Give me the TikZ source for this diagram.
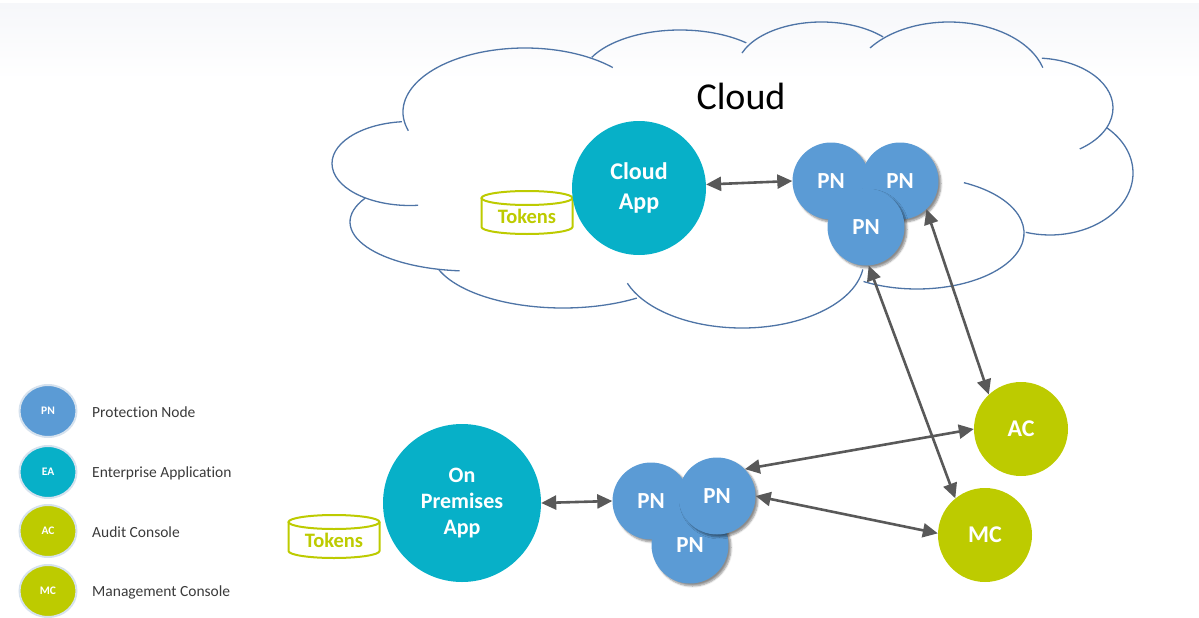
\documentclass[tikz,border=0pt]{standalone}
\usepackage{fontspec}
\setmainfont{Carlito}[Ligatures=NoCommon]
\usetikzlibrary{arrows.meta,shapes.geometric,shadows.blur,calc}
\definecolor{pnblue}{HTML}{5B9BD5}
\definecolor{eateal}{HTML}{07B0C8}
\definecolor{cgreen}{HTML}{BDCB00}
\definecolor{arrowgray}{HTML}{595959}
\definecolor{cloudblue}{HTML}{4E74A6}
\definecolor{legrim}{HTML}{D6E2EE}
\definecolor{legtext}{HTML}{3A3A3A}
\definecolor{topband}{HTML}{F6F7FA}
\newcommand\cloudbump[6]{\draw[cloudline] ([shift={(#1,#2)}]#5:#3 and #4) arc[start angle=#5,end angle=#6,x radius=#3,y radius=#4];}
\newcommand\tokencyl[3]{%
  \draw[tokline] (#2-45.5,#3-18) -- (#2-45.5,#3+11) arc[start angle=180,end angle=0,x radius=45.5,y radius=7] -- (#2+45.5,#3-18);
  \draw[tokline] (#2,#3-18) ellipse [x radius=45.5, y radius=7];
  \node[tokt] (#1) at (#2,#3) {Tokens};}
\begin{document}
\begin{tikzpicture}[x=1pt,y=-1pt,
  cloudline/.style={draw=cloudblue,line width=1.3pt},
  tokline/.style={draw=cgreen,line width=2pt,fill=white},
  tokt/.style={text=cgreen,font=\bfseries\fontsize{20.5}{24}\selectfont,inner sep=0pt},
  pn/.style={circle,fill=pnblue,minimum size=77pt,inner sep=0pt,text=white,
    font=\bfseries\fontsize{23}{27}\selectfont,
    blur shadow={shadow xshift=2.5pt,shadow yshift=-2.5pt,shadow blur steps=6,shadow opacity=45}},
  ea/.style={circle,fill=eateal,inner sep=0pt,text=white,align=center},
  con/.style={circle,fill=cgreen,minimum size=94pt,inner sep=0pt,text=white,
    font=\bfseries\fontsize{24}{28}\selectfont},
  link/.style={draw=arrowgray,line width=2.6pt,{Triangle[length=15pt,width=14pt]}-{Triangle[length=15pt,width=14pt]}},
  legc/.style={ellipse,minimum width=57pt,minimum height=52pt,inner sep=0pt,draw=legrim,line width=2pt,
    text=white,font=\bfseries\fontsize{11.5}{13}\selectfont},
  legt/.style={anchor=west,inner sep=0pt,text=legtext,font=\fontsize{15.5}{18}\selectfont}]
\useasboundingbox (0,0) rectangle (1199,618);
\shade[top color=topband,bottom color=white,draw=none] (0,4) rectangle (1199,80);

% cloud outline
\cloudbump{410}{163.5}{78}{42}{264}{84}
\cloudbump{525}{112}{122}{64}{163}{316}
\cloudbump{680}{80}{99}{50}{207}{312}
\cloudbump{821.5}{70}{85}{48}{200.7}{316.5}
\cloudbump{949}{85}{97.6}{63}{216}{344}
\cloudbump{1035}{108}{78}{50}{275}{415}
\cloudbump{1050}{173}{83}{62}{313}{467}
\cloudbump{917}{233}{107}{56}{296}{480}
\cloudbump{742}{260}{122}{68}{8}{160}
\cloudbump{563}{250}{132}{58}{56}{160}
\cloudbump{470}{222}{120}{49}{209}{95}
\node[font=\fontsize{38}{42}\selectfont,text=black] (cloudt) at (741,96) {Cloud};

% nodes
\tokencyl{tok1}{527}{216}
\tokencyl{tok2}{334}{540}
\node[ea,minimum size=134pt,font=\bfseries\fontsize{24}{30}\selectfont] (capp) at (639,188) {Cloud\\App};
\node[ea,minimum size=158pt,font=\bfseries\fontsize{22}{26}\selectfont] (op) at (462,503) {On\\Premises\\App};
\node[pn] (tpn1) at (831,181) {PN};
\node[pn] (tpn2) at (900,181) {PN};
\node[pn] (tpn3) at (866,227) {PN};
\node[pn] (bpn1) at (651,501) {PN};
\node[pn] (bpn3) at (690,545) {PN};
\node[pn] (bpn2) at (717,496) {PN};
\node[con] (ac) at (1021,429) {AC};
\node[con] (mc) at (985,535) {MC};

% connectors
\draw[link] (capp.3) -- (tpn1.180);
\draw[link] (op.east) -- (bpn1.west);
\draw[link] (bpn2.44) -- (ac.180);
\draw[link] (bpn2.0) -- (mc.178);
\draw[link] (tpn3.274) -- (mc.129);
\draw[link] (tpn2.313) -- (ac.133);

% legend
\node[legc,fill=pnblue] (lpn) at (48,411) {PN};
\node[legt] (lpnt) at (92,412) {Protection Node};
\node[legc,fill=eateal] (lea) at (48,472) {EA};
\node[legt] (leat) at (92,473) {Enterprise Application};
\node[legc,fill=cgreen] (lac) at (48,531) {AC};
\node[legt] (lact) at (92,532) {Audit Console};
\node[legc,fill=cgreen] (lmc) at (48,591) {MC};
\node[legt] (lmct) at (92,592) {Management Console};
\end{tikzpicture}
\end{document}
